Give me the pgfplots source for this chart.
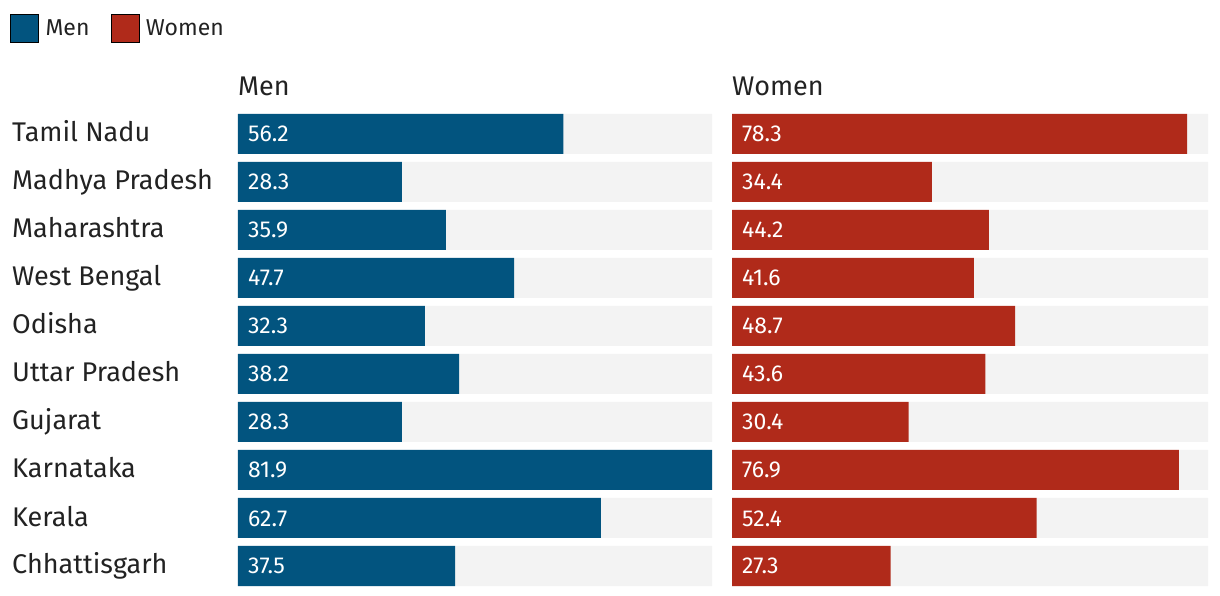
\documentclass[border=0pt]{standalone}
\usepackage{pgfplots}
\pgfplotsset{compat=1.18}
\usepackage{pgfplotstable}
\usepackage{fontspec}
\setmainfont{Fira Sans}

\definecolor{menc}{HTML}{02547F}
\definecolor{womenc}{HTML}{B02A1A}
\definecolor{bgc}{HTML}{F3F3F3}
\definecolor{txt}{HTML}{222222}

\pgfplotstableread{
idx men women bg
0 56.2 78.3 81.9
1 28.3 34.4 81.9
2 35.9 44.2 81.9
3 47.7 41.6 81.9
4 32.3 48.7 81.9
5 38.2 43.6 81.9
6 28.3 30.4 81.9
7 81.9 76.9 81.9
8 62.7 52.4 81.9
9 37.5 27.3 81.9
}\data

\pgfplotsset{
  panel/.style={
    scale only axis, height=480pt,
    xmin=0, xmax=81.9, ymin=-0.5, ymax=9.5, y dir=reverse,
    enlargelimits=false, axis line style={draw=none},
    xtick=\empty, ytick={0,...,9}, major tick length=0pt,
    tick style={draw=none},
    title style={at={(axis description cs:0,1)}, anchor=base west,
      inner sep=0pt, yshift=8pt, text=txt, font=\fontsize{27}{32}\selectfont},
  },
  bgbar/.style={xbar, bar width=40pt, bar shift=0pt, fill=bgc, draw=none, forget plot},
  vals/.style={draw=none, mark=none, forget plot, nodes near coords,
    point meta=explicit symbolic,
    every node near coord/.append style={anchor=base west, xshift=10pt, yshift=-8pt,
      inner sep=0pt, text=white, font=\fontsize{23}{27}\selectfont}},
}

\begin{document}
\begin{tikzpicture}
\begin{axis}[panel, name=men, width=474pt, title={Men},
  yticklabels={Tamil Nadu, Madhya Pradesh, Maharashtra, West Bengal, Odisha,
    Uttar Pradesh, Gujarat, Karnataka, Kerala, Chhattisgarh},
  yticklabel style={anchor=base west, inner sep=0pt, xshift=-226pt, yshift=-8pt,
    text=txt, font=\fontsize{27}{32}\selectfont},
  legend style={at={(axis description cs:-0.481,1.2)}, anchor=north west,
    draw=none, fill=none, legend columns=-1, inner sep=0pt, text=txt,
    font=\fontsize{23}{27}\selectfont,
    nodes={inner sep=0pt},
    /tikz/every odd column/.append style={column sep=7pt},
    /tikz/every even column/.append style={column sep=21pt}},
  legend image code/.code={\fill[#1] (0pt,-14pt) rectangle (28pt,14pt);},
]
\addplot[bgbar] table[x=bg, y=idx] {\data};
\addplot[xbar, bar width=40pt, bar shift=0pt, fill=menc, draw=none, forget plot]
  table[x=men, y=idx] {\data};
\addplot[vals] table[x expr=0, y=idx, meta=men] {\data};
\addlegendimage{fill=menc}
\addlegendentry{Men}
\addlegendimage{fill=womenc}
\addlegendentry{Women}
\end{axis}

\begin{axis}[panel, name=women, width=476pt, title={Women},
  at={(men.north east)}, anchor=north west, xshift=20pt,
  yticklabels={}]
\addplot[bgbar] table[x=bg, y=idx] {\data};
\addplot[xbar, bar width=40pt, bar shift=0pt, fill=womenc, draw=none, forget plot]
  table[x=women, y=idx] {\data};
\addplot[vals] table[x expr=0, y=idx, meta=women] {\data};
\end{axis}

\path ([xshift=-238pt,yshift=110pt]men.north west) rectangle ([xshift=982pt,yshift=-486pt]men.north west);
\end{tikzpicture}
\end{document}
